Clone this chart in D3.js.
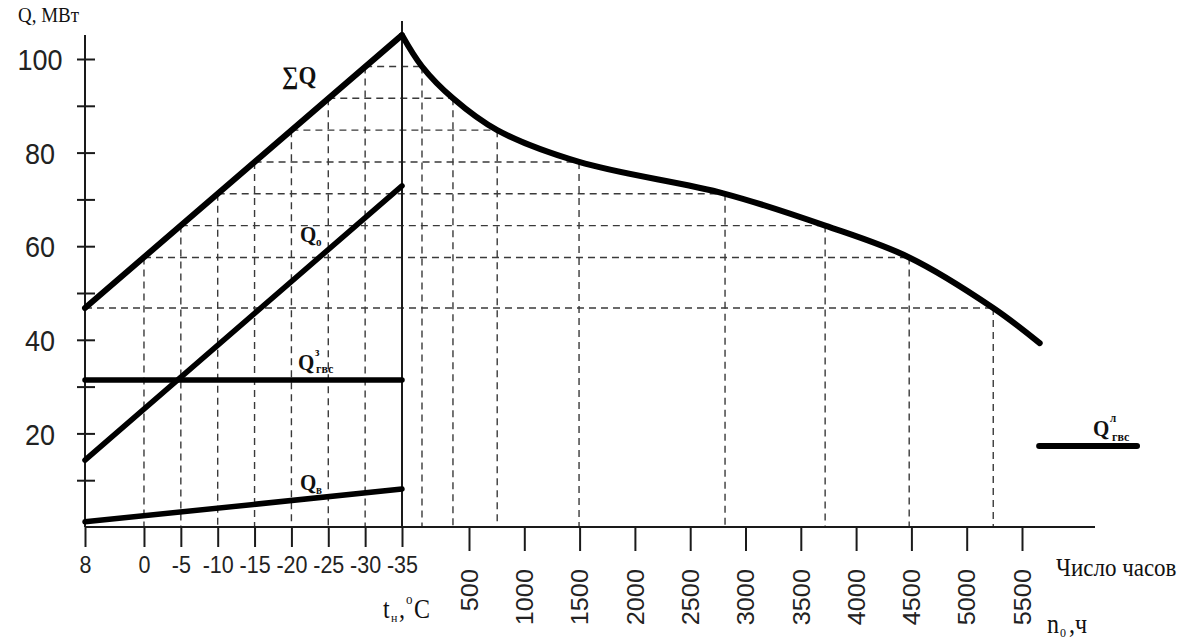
<!DOCTYPE html>
<html>
<head>
<meta charset="utf-8">
<script src="https://cdn.jsdelivr.net/npm/d3@7"></script>
<style>
  html, body { margin: 0; padding: 0; background: #fff; }
  svg { display: block; }
</style>
</head>
<body>
<svg id="chart" width="1201" height="639"></svg>
<script>
// Outdoor temperatures on the left part of the horizontal axis, °C
const temps = [8, 0, -5, -10, -15, -20, -25, -30, -35];
// Total heat load ΣQ at each of those temperatures, MW
const sumQ = [46.8, 57.6, 64.4, 71.2, 78.0, 84.8, 91.6, 98.4, 105.1];
// Hours per year with outdoor temperature at or below t (for t = 8 … -30)
const durationHours = [5240, 4480, 3720, 2815, 1495, 755, 355, 75];
// End of the load-duration curve
const curveEndHours = 5660;
const curveEndQ = 39.3;
// Heating load Q_o at t = 8 and t = -35, MW
const heatingQ = [14.3, 72.9];
// Ventilation load Q_v at t = 8 and t = -35, MW
const ventQ = [1.1, 8.1];
// Winter hot-water load, MW
const dhwWinterQ = 31.4;
// Summer hot-water load and the hour span it is drawn over
const dhwSummerQ = 17.3;
const dhwSummerHours = [5655, 6540];
// Axis ticks
const qTicks = [10, 20, 30, 40, 50, 60, 70, 80, 90, 100];
const qLabelled = [20, 40, 60, 80, 100];
const hourTicks = [500, 1000, 1500, 2000, 2500, 3000, 3500, 4000, 4500, 5000, 5500];

const svg = d3.select("#chart");
const SANS = "'Liberation Sans', Arial, sans-serif";
const SERIF = "'Liberation Serif', 'Times New Roman', serif";
const SY = 1.1; // text is drawn slightly tall

// Scales
const y = d3.scaleLinear().domain([0, 100]).range([527, 59]);
const tX = d3.scaleLinear().domain([8, -35]).range([85, 402]);
const hX = d3.scaleLinear().domain([500, 5500]).range([469, 1022]);

const y0 = y(0);
const axisColor = "#1a1a1a";
const dashColor = "#3a3a3a";

// ---- dashed construction lines ----
const guides = svg.append("g").attr("class", "guides")
  .attr("stroke", dashColor).attr("stroke-width", 1.4)
  .attr("stroke-dasharray", "7,5").attr("fill", "none");

durationHours.forEach((h, i) => {
  const t = temps[i], q = sumQ[i];
  // horizontal: from ΣQ line to the duration curve
  guides.append("line")
    .attr("x1", tX(t)).attr("x2", hX(h))
    .attr("y1", y(q)).attr("y2", y(q));
  // vertical down from the duration curve
  guides.append("line")
    .attr("x1", hX(h)).attr("x2", hX(h))
    .attr("y1", y(q)).attr("y2", y0);
  // vertical down from the ΣQ line
  if (t !== 8) {
    guides.append("line")
      .attr("x1", tX(t)).attr("x2", tX(t))
      .attr("y1", y(q)).attr("y2", y0);
  }
});

// ---- axes ----
const yAxis = d3.axisLeft(y)
  .tickValues(qTicks)
  .tickSizeInner(0).tickSizeOuter(0)
  .tickFormat(d => qLabelled.includes(d) ? d : "");
const gy = svg.append("g").attr("transform", `translate(${tX(8)},0)`).call(yAxis);
gy.select(".domain").remove();
gy.selectAll(".tick line").attr("x1", -8).attr("x2", 10)
  .attr("stroke", axisColor).attr("stroke-width", 2);
gy.selectAll(".tick text")
  .attr("x", null).attr("y", null).attr("dy", "0.358em")
  .attr("text-anchor", "middle")
  .attr("transform", `translate(-45,0) scale(1,${SY})`)
  .attr("font-family", SANS).attr("font-size", 27).attr("fill", "#222");

const tAxis = d3.axisBottom(tX)
  .tickValues(temps)
  .tickSizeInner(20).tickSizeOuter(0)
  .tickFormat(d => d);
const gt = svg.append("g").attr("transform", `translate(0,${y0})`).call(tAxis);
gt.select(".domain").remove();
gt.selectAll(".tick line").attr("stroke", axisColor).attr("stroke-width", 2);
gt.selectAll(".tick text")
  .attr("y", null).attr("dy", "0.358em")
  .attr("transform", `translate(0,38) scale(1,${SY})`)
  .attr("font-family", SANS).attr("font-size", 21.5).attr("fill", "#222");

const hAxis = d3.axisBottom(hX)
  .tickValues(hourTicks)
  .tickSizeInner(24).tickSizeOuter(0)
  .tickFormat(d => d);
const gh = svg.append("g").attr("transform", `translate(0,${y0})`).call(hAxis);
gh.select(".domain").remove();
gh.selectAll(".tick line").attr("stroke", axisColor).attr("stroke-width", 2);
gh.selectAll(".tick text")
  .attr("y", null).attr("x", 0).attr("dy", "0.358em")
  .attr("text-anchor", "end")
  .attr("transform", `translate(0,42) rotate(-90) scale(${SY},1)`)
  .attr("font-family", SANS).attr("font-size", 23).attr("fill", "#222");

// axis lines
const axes = svg.append("g").attr("stroke", axisColor).attr("stroke-width", 2);
axes.append("line").attr("x1", tX(8)).attr("x2", tX(8)).attr("y1", 35).attr("y2", y0);
axes.append("line").attr("x1", tX(-35)).attr("x2", tX(-35)).attr("y1", 21).attr("y2", y0);
axes.append("line").attr("x1", tX(8)).attr("x2", 1095).attr("y1", y0).attr("y2", y0);

// ---- load lines ----
const thick = svg.append("g").attr("fill", "none").attr("stroke", "#000")
  .attr("stroke-linecap", "round").attr("stroke-linejoin", "round");
const tLine = d3.line().x(d => tX(d[0])).y(d => y(d[1]));

// ΣQ vs temperature
thick.append("path").attr("stroke-width", 6)
  .attr("d", tLine([[temps[0], sumQ[0]], [temps[8], sumQ[8]]]));
// Q_o
thick.append("path").attr("stroke-width", 5.5)
  .attr("d", tLine([[8, heatingQ[0]], [-35, heatingQ[1]]]));
// Q_gvs winter
thick.append("path").attr("stroke-width", 5.5)
  .attr("d", tLine([[8, dhwWinterQ], [-35, dhwWinterQ]]));
// Q_v
thick.append("path").attr("stroke-width", 5.5)
  .attr("d", tLine([[8, ventQ[0]], [-35, ventQ[1]]]));

// load-duration curve: starts at the ΣQ peak, then through the (hours, ΣQ) pairs
const curvePts = [[tX(-35), y(sumQ[8])]];
for (let i = durationHours.length - 1; i >= 0; i--) {
  curvePts.push([hX(durationHours[i]), y(sumQ[i])]);
}
curvePts.push([hX(curveEndHours), y(curveEndQ)]);
thick.append("path").attr("stroke-width", 6)
  .attr("d", d3.line().curve(d3.curveCatmullRom.alpha(0.5))(curvePts));

// summer hot-water load
thick.append("path").attr("stroke-width", 6)
  .attr("d", d3.line()([[hX(dhwSummerHours[0]), y(dhwSummerQ)], [hX(dhwSummerHours[1]), y(dhwSummerQ)]]));

// ---- labels ----
function label(x, yy, txt, size, opts = {}) {
  return svg.append("text")
    .attr("transform", `translate(${x},${yy}) scale(1,${SY})`)
    .attr("font-family", opts.family || SERIF)
    .attr("font-size", size)
    .attr("font-weight", opts.weight || "normal")
    .attr("text-anchor", opts.anchor || "start")
    .attr("fill", "#111")
    .text(txt);
}

label(18, 22, "Q, МВт", 19);
label(282, 84, "∑Q", 23, { weight: "bold" });

label(300, 242, "Q", 21, { weight: "bold" });
label(316, 246, "о", 11, { weight: "bold" });

label(298, 370, "Q", 21, { weight: "bold" });
label(315, 356, "з", 11, { weight: "bold" });
label(316, 373, "гвс", 12, { weight: "bold" });

label(300, 490, "Q", 21, { weight: "bold" });
label(316, 494, "в", 11, { weight: "bold" });

label(1093, 436, "Q", 21, { weight: "bold" });
label(1110, 422, "л", 11, { weight: "bold" });
label(1112, 441, "гвс", 12, { weight: "bold" });

label(383, 618, "t", 24);
label(391, 622, "н", 12);
label(399, 618, ",", 24);
label(406, 604, "o", 13);
label(414, 618, "C", 24);

label(1056, 576, "Число часов", 23);

label(1047, 633, "n", 24);
label(1060, 637, "0", 12);
label(1069, 633, ",ч", 24);
</script>
</body>
</html>
